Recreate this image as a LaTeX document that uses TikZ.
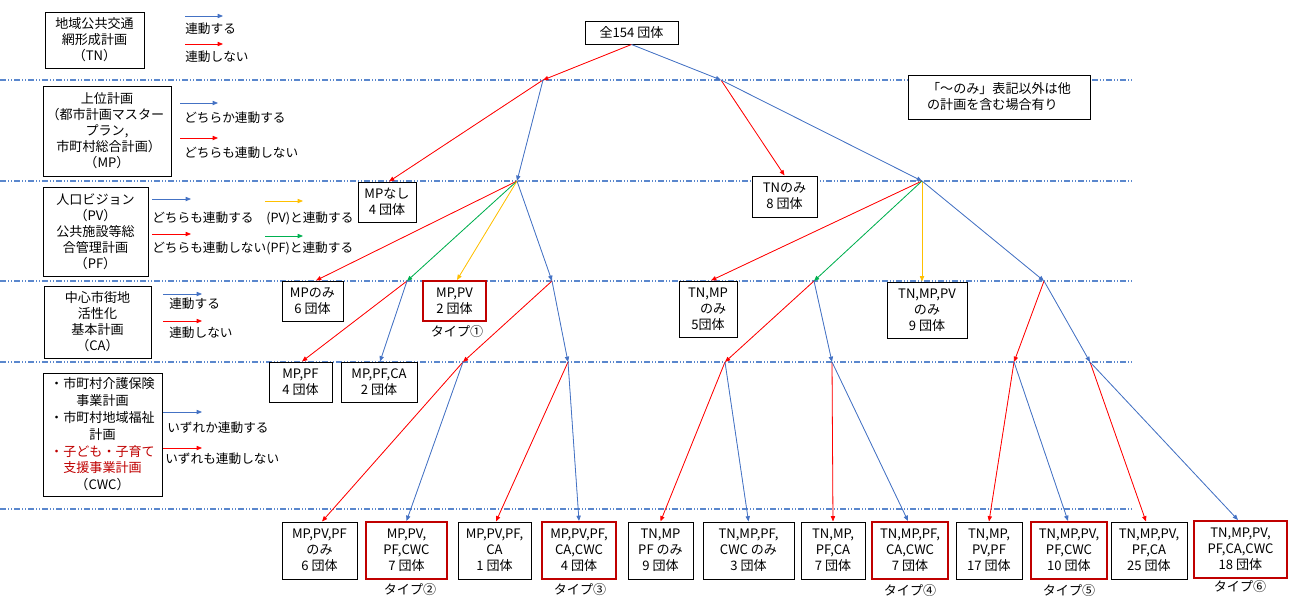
\documentclass[tikz,border=0pt]{standalone}
\usepackage{fontspec}
\setmainfont{Noto Sans CJK JP}
\usetikzlibrary{arrows.meta,calc}
\definecolor{cblue}{RGB}{68,114,196}
\definecolor{cred}{RGB}{255,0,0}
\definecolor{cyel}{RGB}{255,192,0}
\definecolor{cgreen}{RGB}{0,176,80}
\definecolor{boxred}{RGB}{192,0,0}
\definecolor{dashc}{RGB}{90,135,205}
\newcommand{\LP}{\kern-0.25em（}
\newcommand{\RP}{）\kern-0.25em}
\tikzset{
  bx/.style={draw=black, line width=0.75pt, fill=white, align=center, inner sep=1pt, font=\fontsize{9.8}{12}\selectfont},
  rbx/.style={bx, draw=boxred, line width=1.5pt},
  sz/.style 2 args={minimum width={#1*0.75pt}, minimum height={#2*0.75pt}},
  lbl/.style={font=\fontsize{9.8}{12}\selectfont, inner sep=0pt},
  leg/.style={font=\fontsize{9.5}{12}\selectfont, inner sep=0pt, anchor=west},
  con/.style={line width=0.6pt, -{Triangle[length=4pt,width=3.2pt]}},
  cb/.style={con, draw=cblue, fill=cblue},
  cr/.style={con, draw=cred, fill=cred},
  cy/.style={con, draw=cyel, fill=cyel},
  cg/.style={con, draw=cgreen, fill=cgreen},
  sepline/.style={draw=dashc, line width=0.8pt, dash pattern=on 4.5pt off 1.5pt on 0.75pt off 1.5pt on 0.75pt off 1.5pt},
}
\begin{document}
\begin{tikzpicture}[x=0.75pt,y=-0.75pt]
\useasboundingbox (0,0) rectangle (1293,596);
\fill[white] (0,0) rectangle (1293,596);
% separator lines
\foreach \yy in {80,181,281,362,509} { \draw[sepline] (0,\yy) -- (1133,\yy); }

% ---------- legend ----------
\node[bx, sz={99}{56}] (lgTN) at (94.5,40) {地域公共交通\\網形成計画\\\LP TN\RP};
\draw[cb] (185,16) -- (223,16);
\draw[cr] (185,44) -- (223,44);
\node[leg] (lgTNa) at (185,29) {連動する};
\node[leg] (lgTNb) at (185,57) {連動しない};

\node[bx, sz={128}{90}] (lgMP) at (107,131) {上位計画\\\LP 都市計画マスター\\プラン,\\市町村総合計画\RP\\\LP MP\RP};
\draw[cb] (180,103) -- (218,103);
\draw[cr] (180,138) -- (218,138);
\node[leg] (lgMPa) at (184,118) {どちらか連動する};
\node[leg] (lgMPb) at (184,153) {どちらも連動しない};

\node[bx, sz={105}{89}] (lgPV) at (95.5,231.5) {人口ビジョン\\\LP PV\RP\\公共施設等総\\合管理計画\\\LP PF\RP};
\draw[cb] (152,199) -- (191,199);
\draw[cr] (152,234) -- (191,234);
\node[leg] (lgPVa) at (152,218) {どちらも連動する};
\node[leg] (lgPVb) at (152,248) {どちらも連動しない};
\draw[cy] (265,201) -- (303,201);
\draw[cg] (265,236) -- (303,236);
\node[leg] (lgPVc) at (266,218) {(PV)と連動する};
\node[leg] (lgPVd) at (266,248) {(PF)と連動する};

\node[bx, sz={107}{72}] (lgCA) at (97.5,322) {中心市街地\\活性化\\基本計画\\\LP CA\RP};
\draw[cb] (163,294) -- (202,294);
\draw[cr] (163,321) -- (202,321);
\node[leg] (lgCAa) at (169,304) {連動する};
\node[leg] (lgCAb) at (169,333) {連動しない};

\node[bx, sz={119}{123}, font=\fontsize{9.8}{12.6}\selectfont] (lgCWC) at (102.5,434.5) {・市町村介護保険\\事業計画\\・市町村地域福祉\\計画\\\textcolor{boxred}{・子ども・子育て}\\\textcolor{boxred}{支援事業計画}\\\LP CWC\RP};
\draw[cb] (163,412) -- (202,412);
\draw[cr] (163,448) -- (202,448);
\node[leg] (lgCWCa) at (167,428) {いずれか連動する};
\node[leg] (lgCWCb) at (165,459) {いずれも連動しない};

% ---------- note ----------
\node[bx, sz={182}{44}, align=left] (note) at (999,97) {「～のみ」表記以外は他\\の計画を含む場合有り};

% ---------- tree nodes ----------
\node[bx, sz={93}{23}] (root) at (631.5,32.5) {全154 団体};
\coordinate (A1) at (543,80);
\coordinate (B1) at (721,80);
\coordinate (P2) at (517,181);
\coordinate (Q2) at (922,181);
\coordinate (P3a) at (407,281);
\coordinate (P3b) at (552,281);
\coordinate (Q3a) at (814,281);
\coordinate (Q3b) at (1044,281);
\coordinate (P4a) at (463,362);
\coordinate (P4b) at (568,362);
\coordinate (Q4a) at (725,362);
\coordinate (Q4b) at (832,362);
\coordinate (Q4c) at (1014,362);
\coordinate (Q4d) at (1090,362);

\node[bx, sz={58}{40}] (mpnashi) at (387,202) {MPなし\\4 団体};
\node[bx, sz={65}{41}] (tnnomi) at (784.5,196.5) {TNのみ\\8 団体};
\node[bx, sz={61}{40}] (mpnomi) at (312.5,301) {MPのみ\\6 団体};
\node[rbx, sz={63}{40}] (mppv) at (454.5,301) {MP,PV\\2 団体};
\node[lbl] (t1) at (457,332) {タイプ①};
\node[bx, sz={58}{56}] (tnmp) at (708,309) {TN,MP\\\hspace*{0.8em}のみ\\5団体};
\node[bx, sz={80}{56}] (tnmppv) at (927,310) {TN,MP,PV\\のみ\\9 団体};
\node[bx, sz={63}{40}] (mppf) at (300.5,382) {MP,PF\\4 団体};
\node[bx, sz={76}{40}] (mppfca) at (379,382) {MP,PF,CA\\2 団体};

\node[bx, sz={75}{57}] (b1) at (319.5,550.5) {MP,PV,PF\\のみ\\6 団体};
\node[rbx, sz={81}{57}] (b2) at (406.5,550.5) {MP,PV,\\PF,CWC\\7 団体};
\node[bx, sz={73}{57}] (b3) at (494.5,550.5) {MP,PV,PF,\\CA\\1 団体};
\node[rbx, sz={74}{57}] (b4) at (579,550.5) {MP,PV,PF,\\CA,CWC\\4 団体};
\node[bx, sz={65}{57}] (b5) at (660.5,550.5) {TN,MP\\PF のみ\\9 団体};
\node[bx, sz={91}{57}] (b6) at (748.5,550.5) {TN,MP,PF,\\CWC のみ\\3 団体};
\node[bx, sz={64}{57}] (b7) at (833,550.5) {TN,MP,\\PF,CA\\7 団体};
\node[rbx, sz={76}{57}] (b8) at (910,550.5) {TN,MP,PF,\\CA,CWC\\7 団体};
\node[bx, sz={66}{57}] (b9) at (989,550.5) {TN,MP,\\PV,PF\\17 団体};
\node[rbx, sz={76}{57}] (b10) at (1069,550.5) {TN,MP,PV,\\PF,CWC\\10 団体};
\node[bx, sz={76}{57}] (b11) at (1149,550.5) {TN,MP,PV,\\PF,CA\\25 団体};
\node[rbx, sz={93}{57}] (b12) at (1240.5,549.5) {TN,MP,PV,\\PF,CA,CWC\\18 団体};

\node[lbl] (t2) at (410,590) {タイプ②};
\node[lbl] (t3) at (580,590) {タイプ③};
\node[lbl] (t4) at (910,591) {タイプ④};
\node[lbl] (t5) at (1069,591) {タイプ⑤};
\node[lbl] (t6) at (1240,587) {タイプ⑥};

% ---------- connectors ----------
\draw[cr] (root.south) -- (A1);
\draw[cb] (root.south) -- (B1);
\draw[cr] (A1) -- ($(mpnashi.north)+(2,0)$);
\draw[cb] (A1) -- (P2);
\draw[cr] (B1) -- (tnnomi.north);
\draw[cb] (B1) -- (Q2);

\draw[cr] (P2) -- ($(mpnomi.north)+(3.5,0)$);
\draw[cg] (P2) -- (P3a);
\draw[cy] (P2) -- ($(mppv.north)+(2.5,0)$);
\draw[cb] (P2) -- (P3b);

\draw[cr] (Q2) -- ($(tnmp.north)+(3,0)$);
\draw[cg] (Q2) -- (Q3a);
\draw[cy] (Q2) -- ($(tnmppv.north)+(-5,0)$);
\draw[cb] (Q2) -- (Q3b);

\draw[cr] (P3a) -- ($(mppf.north)+(1.5,0)$);
\draw[cb] (P3a) -- ($(mppfca.north)+(1,0)$);
\draw[cr] (P3b) -- (P4a);
\draw[cb] (P3b) -- (P4b);

\draw[cr] (Q3a) -- (Q4a);
\draw[cb] (Q3a) -- (Q4b);
\draw[cr] (Q3b) -- (Q4c);
\draw[cb] (Q3b) -- (Q4d);

\draw[cr] (P4a) -- ($(b1.north)+(2.5,0)$);
\draw[cb] (P4a) -- (b2.north);
\draw[cr] (P4b) -- ($(b3.north)+(1.5,0)$);
\draw[cb] (P4b) -- (b4.north);

\draw[cr] (Q4a) -- (b5.north);
\draw[cb] (Q4a) -- (b6.north);
\draw[cr] (Q4b) -- (b7.north);
\draw[cb] (Q4b) -- ($(b8.north)+(-2,0)$);
\draw[cr] (Q4c) -- (b9.north);
\draw[cb] (Q4c) -- ($(b10.north)+(-1,0)$);
\draw[cr] (Q4d) -- ($(b11.north)+(-3,0)$);
\draw[cb] (Q4d) -- ($(b12.north)+(-2.5,0)$);
\end{tikzpicture}
\end{document}
